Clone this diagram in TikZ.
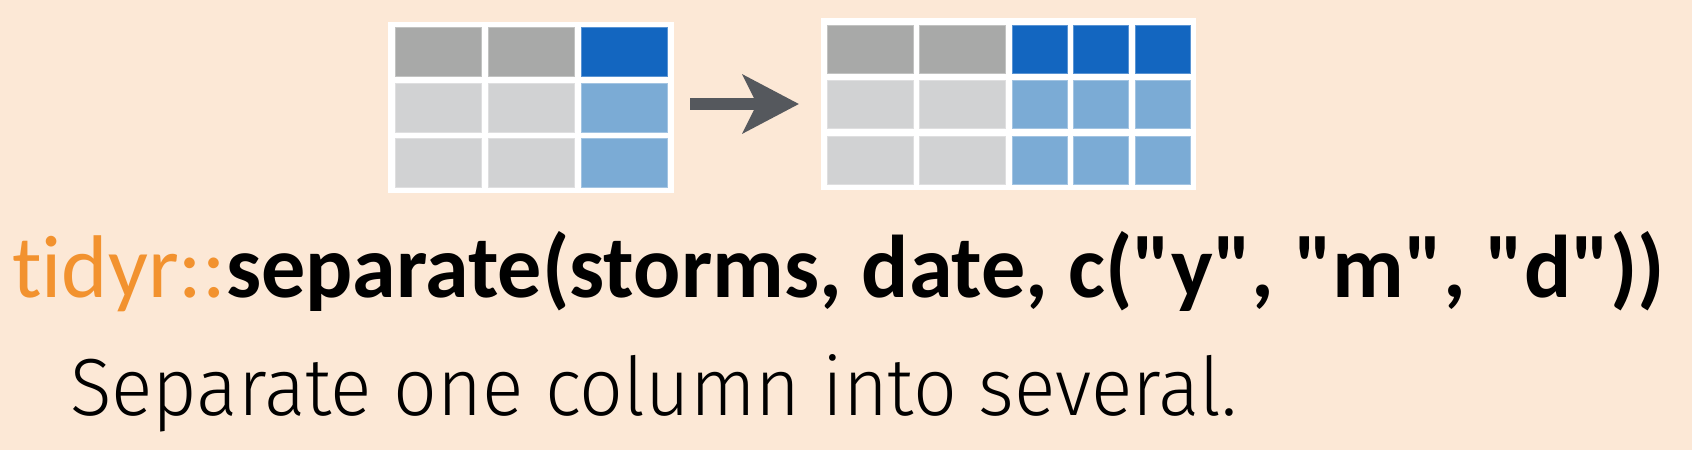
\documentclass[tikz,border=0pt]{standalone}
\usepackage{fontspec}
\usepackage{graphicx}
\usepackage{xcolor}
\usetikzlibrary{arrows.meta}
\setmainfont{Carlito}[Ligatures={TeXOff,NoCommon}]
\newfontfamily\lightfont{Fira Sans Light}
\definecolor{bgpeach}{HTML}{FCE8D6}
\definecolor{darkgrey}{HTML}{A8A9A8}
\definecolor{lightgrey}{HTML}{D1D2D3}
\definecolor{darkblue}{HTML}{1366C0}
\definecolor{lightblue}{HTML}{7BABD5}
\definecolor{tidyorange}{HTML}{F2922F}
\definecolor{arrowgrey}{HTML}{55585D}

\begin{document}
\begin{tikzpicture}[x=1pt, y=-1pt,
  tbl/.style={fill=white, minimum width=#1, inner sep=0pt},
  cell/.style={fill=#1, draw=#1!70!white, line width=1pt, inner sep=0pt},
  wide/.style={minimum width=86pt},
  narrow/.style={minimum width=55pt},
  bigarrow/.style={-{Stealth[length=56pt, width=58pt, inset=14pt]}, line width=12pt, arrowgrey},
  txt/.style={anchor=base west, inner sep=0pt}
]
\fill[bgpeach] (0,0) rectangle (1692,450);

% input table
\node[tbl=286pt, minimum height=171pt] (oldtab) at (531,107.5) {};
\foreach \r/\y/\g/\b in {1/52/darkgrey/darkblue, 2/107.5/lightgrey/lightblue, 3/162.5/lightgrey/lightblue} {
  \node[cell=\g, wide, minimum height=49pt] (old\r a) at (438.5,\y) {};
  \node[cell=\g, wide, minimum height=49pt] (old\r b) at (531.5,\y) {};
  \node[cell=\b, wide, minimum height=49pt] (old\r c) at (624.5,\y) {};
}

% output table
\node[tbl=375pt, minimum height=172pt] (newtab) at (1008.5,104) {};
\foreach \r/\y/\g/\b in {1/49/darkgrey/darkblue, 2/104/lightgrey/lightblue, 3/160/lightgrey/lightblue} {
  \node[cell=\g, wide, minimum height=48pt] (new\r a) at (870,\y) {};
  \node[cell=\g, wide, minimum height=48pt] (new\r b) at (962.5,\y) {};
  \foreach \c/\x in {c/1039.5, d/1100.5, e/1162.5}
    \node[cell=\b, narrow, minimum height=48pt] (new\r\c) at (\x,\y) {};
}

\coordinate (arrfrom) at (690,104);
\coordinate (arrto) at (799,104);
\draw[bigarrow] (arrfrom) -- (arrto);

% labels
\node[txt] (call) at (12,297) {\resizebox{1653pt}{\height}{\fontsize{89}{92}\selectfont
  \textcolor{tidyorange}{tidyr::}\textbf{separate(storms, date, c("y", "m", "d"))}}};
\node[txt] (desc) at (70,415) {\resizebox{1167pt}{\height}{\lightfont\fontsize{81}{84}\selectfont
  Separate one column into several.}};
\end{tikzpicture}
\end{document}
